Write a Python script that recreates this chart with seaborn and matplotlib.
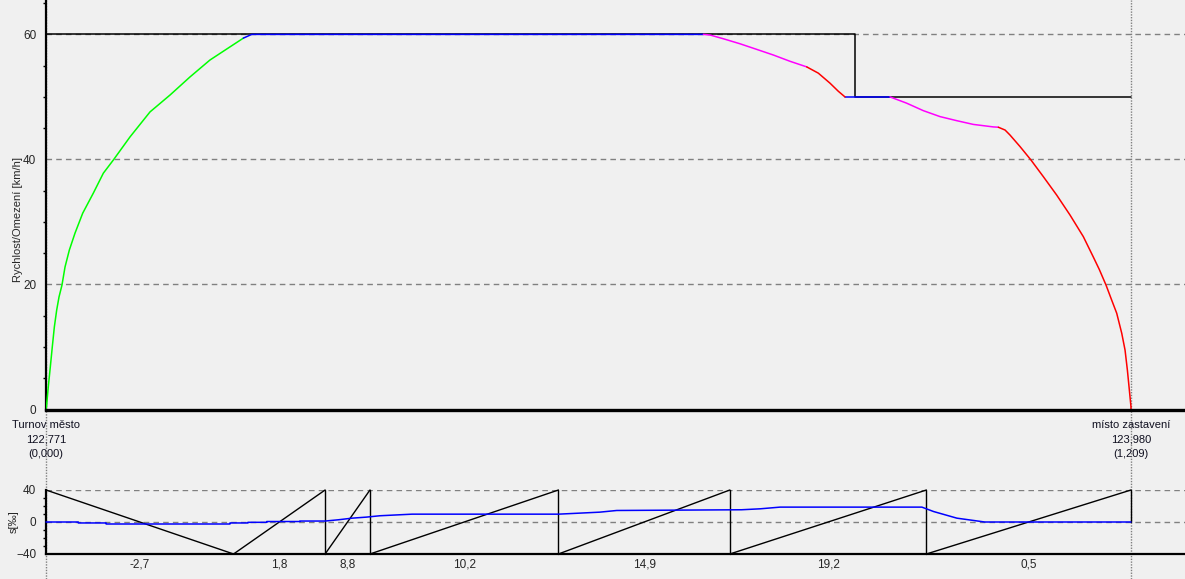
import pandas as pd
import seaborn as sns
import matplotlib.pyplot as plt
from matplotlib.ticker import MultipleLocator

# ---------------------------------------------------------
# Data: speed profile (km from start, km/h)
# ---------------------------------------------------------
accel_km = [0, 0.0007, 0.0026, 0.0048, 0.0070, 0.0093, 0.0119, 0.0145, 0.0178, 0.0212,
            0.026, 0.0323, 0.0409, 0.0527, 0.0639, 0.075, 0.0936, 0.1159, 0.1382,
            0.1605, 0.1827, 0.205, 0.2199]
accel_v = [0, 0.7, 3.7, 6.8, 10.0, 13.2, 15.9, 18.0, 19.9, 22.8,
           25.5, 28.2, 31.4, 34.6, 37.8, 39.9, 43.6, 47.6, 50.3,
           53.2, 55.9, 58.0, 59.4]
cruise1_km = [0.2199, 0.2292, 0.7325]
cruise1_v = [59.4, 60, 60]
coast1_km = [0.7325, 0.740, 0.7548, 0.7733, 0.792, 0.8105, 0.829, 0.8477]
coast1_v = [60, 59.9, 59.3, 58.5, 57.6, 56.7, 55.7, 54.8]
brake1_km = [0.8477, 0.8606, 0.8736, 0.8829, 0.8903]
brake1_v = [54.8, 53.8, 52.2, 50.9, 50.0]
cruise2_km = [0.8903, 0.9405]
cruise2_v = [50, 50]
coast2_km = [0.9405, 0.959, 0.9776, 0.9962, 1.0148, 1.0333, 1.0556, 1.0612]
coast2_v = [50, 49.0, 47.8, 46.85, 46.2, 45.6, 45.2, 45.15]
brake2_km = [1.0612, 1.0687, 1.0742, 1.0854, 1.0976, 1.1113, 1.1262, 1.1411, 1.1559,
             1.167, 1.1737, 1.1812, 1.1875, 1.1931, 1.1987, 1.2024, 1.205, 1.2072, 1.209, 1.209]
brake2_v = [45.15, 44.7, 43.9, 42.05, 39.9, 37.25, 34.3, 31.1, 27.65,
            24.4, 22.4, 19.9, 17.5, 15.4, 12.2, 9.5, 6.3, 3.1, 0.45, 0]

# speed limit
limit_km = [0, 0.902, 0.902, 1.209]
limit_v = [60, 60, 50, 50]

# gradient sections (boundaries in km, gradient in promile)
grad_bounds = [0, 0.209, 0.311, 0.361, 0.571, 0.762, 0.981, 1.209]
grad_vals = [-2.7, 1.8, 8.8, 10.2, 14.9, 19.2, 0.5]

# smoothed (effective) gradient line
eff_km = [0, 0.036, 0.036, 0.067, 0.067, 0.205, 0.205, 0.225, 0.225, 0.246, 0.246,
          0.283, 0.283, 0.311, 0.326, 0.341, 0.357, 0.372, 0.408, 0.571, 0.595,
          0.617, 0.636, 0.775, 0.796, 0.818, 0.976, 0.989, 1.015, 1.046, 1.209]
eff_v = [0, 0, -1.2, -1.2, -2.5, -2.5, -1.2, -1.2, -0.4, -0.4, 0.6,
         0.6, 1.2, 1.2, 2.8, 4.8, 6.1, 7.8, 9.8, 9.8, 11.1,
         12.3, 14.4, 15.3, 16.5, 18.6, 18.6, 13.1, 4.8, 0, 0]

stations_km = [0, 1.209]
stations_txt = ["Turnov město\n122,771\n(0,000)", "místo zastavení\n123,980\n(1,209)"]

# ---------------------------------------------------------
# Style
# ---------------------------------------------------------
sns.set_theme(style="white")
plt.rcParams['font.family'] = ['Liberation Sans', 'DejaVu Sans']
BG = '#F0F0F0'
GRID = '#808080'
PHASE_COLORS = {'accel': '#00FF00', 'cruise': '#0000FF', 'coast': '#FF00FF', 'brake': '#FF0000'}

fig = plt.figure(figsize=(11.85, 5.79), dpi=100, facecolor=BG)
ax = fig.add_axes([46 / 1185, 1 - 409.5 / 579, 1 - 46 / 1185, 409.5 / 579])
ax2 = fig.add_axes([46 / 1185, 25 / 579, 1 - 46 / 1185, 64 / 579])
ax.set_facecolor(BG)
ax2.set_facecolor('none')

# ---------------------------------------------------------
# Top: speed profile
# ---------------------------------------------------------
pieces = [('accel', accel_km, accel_v), ('cruise', cruise1_km, cruise1_v),
          ('coast', coast1_km, coast1_v), ('brake', brake1_km, brake1_v),
          ('cruise', cruise2_km, cruise2_v), ('coast', coast2_km, coast2_v),
          ('brake', brake2_km, brake2_v)]
speed_df = pd.concat([pd.DataFrame({'km': k, 'v': v, 'phase': p, 'piece': i})
                      for i, (p, k, v) in enumerate(pieces)], ignore_index=True)

sns.lineplot(x=limit_km, y=limit_v, ax=ax, color='black', lw=1.1,
             sort=False, estimator=None, zorder=3)
sns.lineplot(data=speed_df, x='km', y='v', hue='phase', units='piece', palette=PHASE_COLORS,
             estimator=None, sort=False, lw=1.1, legend=False, ax=ax, zorder=4)

ax.set_xlim(0, 1.2692)
ax.set_ylim(0, 65.5)
ax.set_xticks([])
ax.set_yticks([0, 20, 40, 60])
ax.yaxis.set_minor_locator(MultipleLocator(5))
ax.tick_params(axis='y', which='major', length=4, width=1, color='black', pad=3, labelsize=8.5)
ax.tick_params(axis='y', which='minor', length=2, width=1, color='black', left=True)
ax.grid(axis='y', ls=(0, (4, 3)), color=GRID, lw=1)
ax.set_axisbelow(True)
ax.set_xlabel('')
ax.set_ylabel('')
for s in ['top', 'right']:
    ax.spines[s].set_visible(False)
ax.spines['left'].set_color('black')
ax.spines['left'].set_linewidth(1.6)
ax.spines['bottom'].set_color('black')
ax.spines['bottom'].set_linewidth(2.4)
ax.spines['bottom'].set_zorder(5)
ax.text(-0.0245, 0.463, 'Rychlost/Omezení [km/h]', transform=ax.transAxes,
        rotation=90, ha='center', va='center', fontsize=8)

# station markers
for km, txt in zip(stations_km, stations_txt):
    ax.axvline(km, ymin=-(579 - 409.5) / 409.5, ymax=1, color=GRID, ls=(0, (1, 1)),
               lw=1, clip_on=False, zorder=1)
    ax.annotate(txt, xy=(km, 0), xycoords=('data', 'axes fraction'),
                xytext=(0, -7.5), textcoords='offset points', ha='center', va='top',
                fontsize=8, linespacing=1.55, color='#101020')

# ---------------------------------------------------------
# Bottom: gradient
# ---------------------------------------------------------
rows = []
n = 0
for i, g in enumerate(grad_vals):
    a, b = grad_bounds[i], grad_bounds[i + 1]
    y0, y1 = (40, -40) if g < 0 else (-40, 40)
    rows += [(a, y0, n), (b, y1, n)]
    n += 1
    if g > 0:
        end = 0 if i == len(grad_vals) - 1 else -40
        rows += [(b, 40, n), (b, end, n)]
        n += 1
saw_df = pd.DataFrame(rows, columns=['km', 'g', 'piece'])

sns.lineplot(data=saw_df, x='km', y='g', units='piece', estimator=None, sort=False,
             color='black', lw=1.0, ax=ax2, zorder=3)
sns.lineplot(x=eff_km, y=eff_v, ax=ax2, color='#0000FF', lw=1.1,
             sort=False, estimator=None, zorder=4)
for line in ax2.get_lines():
    line.set_clip_on(False)

centers = [(grad_bounds[i] + grad_bounds[i + 1]) / 2 for i in range(len(grad_vals))]
ax2.set_xlim(0, 1.2692)
ax2.set_ylim(-40, 40)
ax2.set_xticks(centers)
ax2.set_xticklabels([f"{g:.1f}".replace('.', ',') for g in grad_vals])
ax2.set_yticks([-40, 0, 40])
ax2.yaxis.set_minor_locator(MultipleLocator(10))
ax2.tick_params(axis='x', length=0, pad=3, labelsize=8.5)
ax2.tick_params(axis='y', which='major', length=4, width=1, color='black', pad=3, labelsize=8.5)
ax2.tick_params(axis='y', which='minor', length=2, width=1, color='black', left=True)
ax2.grid(axis='y', ls=(0, (4, 3)), color=GRID, lw=1)
ax2.set_axisbelow(True)
ax2.set_xlabel('')
ax2.set_ylabel('')
for s in ['top', 'right']:
    ax2.spines[s].set_visible(False)
for s in ['left', 'bottom']:
    ax2.spines[s].set_color('black')
    ax2.spines[s].set_linewidth(1.6)
ax2.text(-0.028, 0.5, 's[‰]', transform=ax2.transAxes,
         rotation=90, ha='center', va='center', fontsize=8)

fig.savefig('out.png', dpi=100, facecolor=BG)
